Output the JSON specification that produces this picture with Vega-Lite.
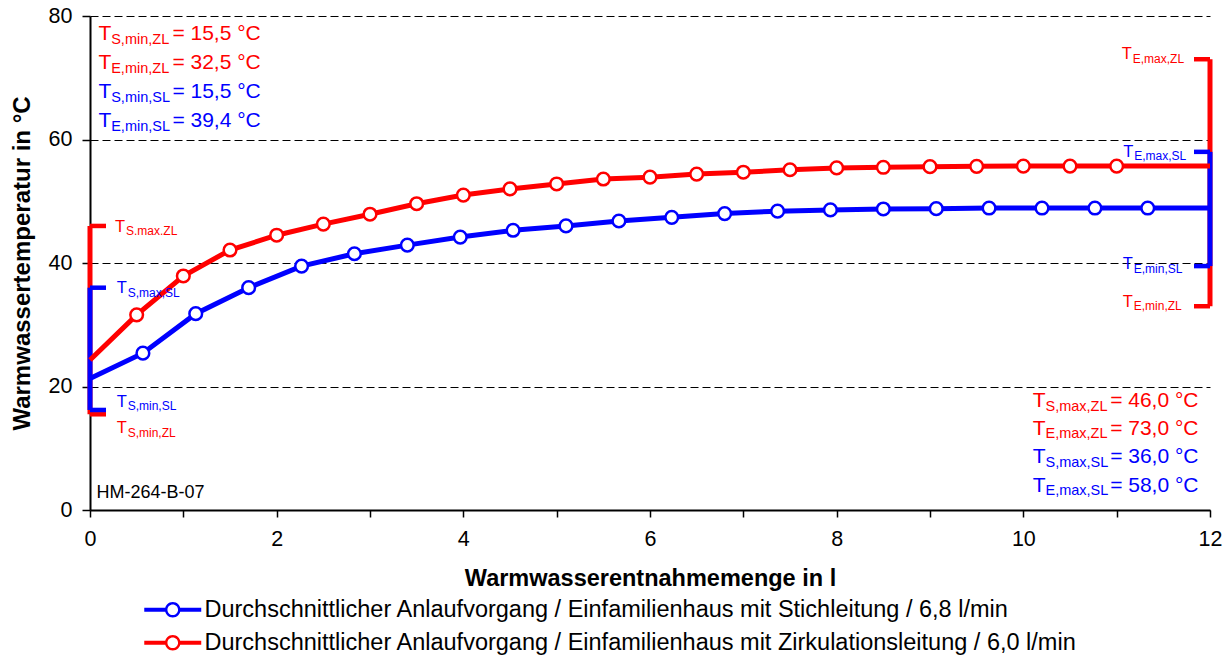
{
  "$schema": "https://vega.github.io/schema/vega-lite/v6.json",
  "width": 1120,
  "height": 494,
  "autosize": "none",
  "padding": {"left": 90, "top": 16, "right": 22, "bottom": 147},
  "background": "white",
  "config": {
    "view": {"stroke": null},
    "font": "Liberation Sans",
    "axis": {"labelFont": "Liberation Sans", "titleFont": "Liberation Sans", "labelColor": "black", "titleColor": "black"}
  },
  "datasets": {
    "kurven": [
      {"serie": "SL", "menge": 0, "temp": 21.3},
      {"serie": "SL", "menge": 0.567, "temp": 25.4},
      {"serie": "SL", "menge": 1.133, "temp": 31.8},
      {"serie": "SL", "menge": 1.7, "temp": 36.0},
      {"serie": "SL", "menge": 2.267, "temp": 39.5},
      {"serie": "SL", "menge": 2.833, "temp": 41.5},
      {"serie": "SL", "menge": 3.4, "temp": 42.9},
      {"serie": "SL", "menge": 3.967, "temp": 44.2},
      {"serie": "SL", "menge": 4.533, "temp": 45.3},
      {"serie": "SL", "menge": 5.1, "temp": 46.0},
      {"serie": "SL", "menge": 5.667, "temp": 46.8},
      {"serie": "SL", "menge": 6.233, "temp": 47.4},
      {"serie": "SL", "menge": 6.8, "temp": 48.0},
      {"serie": "SL", "menge": 7.367, "temp": 48.4},
      {"serie": "SL", "menge": 7.933, "temp": 48.6},
      {"serie": "SL", "menge": 8.5, "temp": 48.75},
      {"serie": "SL", "menge": 9.067, "temp": 48.8},
      {"serie": "SL", "menge": 9.633, "temp": 48.9},
      {"serie": "SL", "menge": 10.2, "temp": 48.9},
      {"serie": "SL", "menge": 10.767, "temp": 48.9},
      {"serie": "SL", "menge": 11.333, "temp": 48.9},
      {"serie": "SL", "menge": 12, "temp": 48.9},
      {"serie": "ZL", "menge": 0, "temp": 24.3},
      {"serie": "ZL", "menge": 0.5, "temp": 31.6},
      {"serie": "ZL", "menge": 1.0, "temp": 37.9},
      {"serie": "ZL", "menge": 1.5, "temp": 42.1},
      {"serie": "ZL", "menge": 2.0, "temp": 44.5},
      {"serie": "ZL", "menge": 2.5, "temp": 46.3},
      {"serie": "ZL", "menge": 3.0, "temp": 47.9},
      {"serie": "ZL", "menge": 3.5, "temp": 49.6},
      {"serie": "ZL", "menge": 4.0, "temp": 51.0},
      {"serie": "ZL", "menge": 4.5, "temp": 52.0},
      {"serie": "ZL", "menge": 5.0, "temp": 52.8},
      {"serie": "ZL", "menge": 5.5, "temp": 53.6},
      {"serie": "ZL", "menge": 6.0, "temp": 53.9},
      {"serie": "ZL", "menge": 6.5, "temp": 54.4},
      {"serie": "ZL", "menge": 7.0, "temp": 54.7},
      {"serie": "ZL", "menge": 7.5, "temp": 55.1},
      {"serie": "ZL", "menge": 8.0, "temp": 55.4},
      {"serie": "ZL", "menge": 8.5, "temp": 55.5},
      {"serie": "ZL", "menge": 9.0, "temp": 55.6},
      {"serie": "ZL", "menge": 9.5, "temp": 55.65},
      {"serie": "ZL", "menge": 10.0, "temp": 55.7},
      {"serie": "ZL", "menge": 10.5, "temp": 55.7},
      {"serie": "ZL", "menge": 11.0, "temp": 55.7},
      {"serie": "ZL", "menge": 12, "temp": 55.7}
    ],
    "klammern": [
      {"serie": "ZL", "menge": 0, "lo": 15.5, "hi": 46.0},
      {"serie": "ZL", "menge": 12, "lo": 33.0, "hi": 73.0},
      {"serie": "SL", "menge": 0, "lo": 16.2, "hi": 36.0},
      {"serie": "SL", "menge": 12, "lo": 39.5, "hi": 58.0}
    ],
    "werte": [
      {"serie": "ZL", "block": "links", "menge": 0.09, "temp": 76.1, "sub": "S,min,ZL", "wert": "= 15,5 °C"},
      {"serie": "ZL", "block": "links", "menge": 0.09, "temp": 71.4, "sub": "E,min,ZL", "wert": "= 32,5 °C"},
      {"serie": "SL", "block": "links", "menge": 0.09, "temp": 66.7, "sub": "S,min,SL", "wert": "= 15,5 °C"},
      {"serie": "SL", "block": "links", "menge": 0.09, "temp": 62.0, "sub": "E,min,SL", "wert": "= 39,4 °C"},
      {"serie": "ZL", "block": "rechts", "menge": 10.1, "temp": 16.6, "sub": "S,max,ZL", "wert": "= 46,0 °C"},
      {"serie": "ZL", "block": "rechts", "menge": 10.1, "temp": 12.15, "sub": "E,max,ZL", "wert": "= 73,0 °C"},
      {"serie": "SL", "block": "rechts", "menge": 10.1, "temp": 7.55, "sub": "S,max,SL", "wert": "= 36,0 °C"},
      {"serie": "SL", "block": "rechts", "menge": 10.1, "temp": 2.95, "sub": "E,max,SL", "wert": "= 58,0 °C"}
    ],
    "marken": [
      {"serie": "ZL", "menge": 0.268, "temp": 45.07, "sub": "S.max.ZL"},
      {"serie": "SL", "menge": 0.286, "temp": 35.1, "sub": "S,max,SL"},
      {"serie": "SL", "menge": 0.286, "temp": 16.73, "sub": "S,min,SL"},
      {"serie": "ZL", "menge": 0.286, "temp": 12.42, "sub": "S,min,ZL"},
      {"serie": "ZL", "menge": 11.054, "temp": 73.0, "sub": "E,max,ZL"},
      {"serie": "SL", "menge": 11.07, "temp": 57.2, "sub": "E,max,SL"},
      {"serie": "SL", "menge": 11.065, "temp": 38.98, "sub": "E,min,SL"},
      {"serie": "ZL", "menge": 11.065, "temp": 32.92, "sub": "E,min,ZL"}
    ],
    "kennung": [{"menge": 0.07, "temp": 1.9, "text": "HM-264-B-07"}]
  },
  "layer": [
    {
      "mark": {"type": "rule", "color": "#808080", "strokeWidth": 2},
      "encoding": {
        "x": {"datum": 12, "type": "quantitative"},
        "y": {"datum": 0, "type": "quantitative"},
        "y2": {"datum": 80}
      }
    },
    {
      "data": {"name": "klammern"},
      "mark": {"type": "rule", "strokeWidth": 5},
      "encoding": {
        "x": {"field": "menge", "type": "quantitative", "scale": {"domain": [0, 12], "nice": false},
          "axis": {
            "values": [0, 1, 2, 3, 4, 5, 6, 7, 8, 9, 10, 11, 12],
            "labelExpr": "datum.value % 2 == 0 ? format(datum.value, 'd') : ''",
            "labelOverlap": false,
            "title": "Warmwasserentnahmemenge in l",
            "titleFontSize": 23.5,
            "titleFontWeight": "bold",
            "titlePadding": 17,
            "labelFontSize": 21.5,
            "labelPadding": 11,
            "labelFlush": false,
            "tickSize": 7,
            "tickWidth": 1.5,
            "tickColor": "black",
            "domainColor": "black",
            "domainWidth": 2,
            "grid": false
          }
        },
        "y": {"field": "lo", "type": "quantitative", "scale": {"domain": [0, 80], "nice": false},
          "axis": {
            "values": [0, 20, 40, 60, 80],
            "title": "Warmwassertemperatur in °C",
            "titleFontSize": 24,
            "titleFontWeight": "bold",
            "titlePadding": 14,
            "labelFontSize": 21.5,
            "labelPadding": 10,
            "tickSize": 8,
            "tickWidth": 1.5,
            "tickColor": "black",
            "domainColor": "black",
            "domainWidth": 2,
            "grid": true,
            "gridColor": "black",
            "gridDash": [8, 4],
            "gridWidth": 1
          }
        },
        "y2": {"field": "hi"},
        "color": {"field": "serie", "type": "nominal", "scale": {"domain": ["SL", "ZL"], "range": ["#0000FF", "#FF0000"]}}
      }
    },
    {
      "data": {"name": "klammern"},
      "transform": [{"fold": ["lo", "hi"], "as": ["art", "wert"]}, {"filter": "datum.menge == 0"}],
      "mark": {"type": "tick", "orient": "horizontal", "size": 16, "thickness": 4.5, "xOffset": 8, "opacity": 1},
      "encoding": {
        "x": {"field": "menge", "type": "quantitative"},
        "y": {"field": "wert", "type": "quantitative"},
        "color": {"field": "serie", "type": "nominal"}
      }
    },
    {
      "data": {"name": "klammern"},
      "transform": [{"fold": ["lo", "hi"], "as": ["art", "wert"]}, {"filter": "datum.menge == 12"}],
      "mark": {"type": "tick", "orient": "horizontal", "size": 16, "thickness": 4.5, "xOffset": -8, "opacity": 1},
      "encoding": {
        "x": {"field": "menge", "type": "quantitative"},
        "y": {"field": "wert", "type": "quantitative"},
        "color": {"field": "serie", "type": "nominal"}
      }
    },
    {
      "data": {"name": "kurven"},
      "mark": {"type": "line", "strokeWidth": 5},
      "encoding": {
        "x": {"field": "menge", "type": "quantitative"},
        "y": {"field": "temp", "type": "quantitative"},
        "color": {"field": "serie", "type": "nominal",
          "legend": {
            "orient": "none",
            "legendX": 71,
            "legendY": 582,
            "direction": "vertical",
            "title": null,
            "padding": 0,
            "symbolType": "M-4.07,-0.29L-1,-0.29L-1,0.29L-4.07,0.29ZM1,-0.29L4.07,-0.29L4.07,0.29L1,0.29ZM-1.11,0A1.11,1.11,0,1,1,1.11,0A1.11,1.11,0,1,1,-1.11,0ZM-0.76,0A0.76,0.76,0,1,0,0.76,0A0.76,0.76,0,1,0,-0.76,0Z",
            "symbolSize": 196,
            "symbolStrokeWidth": 0,
            "labelFontSize": 23.5,
            "labelFont": "Liberation Sans",
            "labelColor": "black",
            "labelOffset": 20,
            "labelLimit": 1100,
            "rowPadding": 8,
            "labelExpr": "datum.value == 'SL' ? 'Durchschnittlicher Anlaufvorgang / Einfamilienhaus mit Stichleitung / 6,8 l/min' : 'Durchschnittlicher Anlaufvorgang / Einfamilienhaus mit Zirkulationsleitung / 6,0 l/min'",
            "encode": {"symbols": {"update": {"fill": {"signal": "scale('color', datum.value)"}, "strokeWidth": {"value": 0}, "opacity": {"value": 1}}}}
          }
        }
      }
    },
    {
      "data": {"name": "kurven"},
      "transform": [{"filter": "datum.menge > 0 && datum.menge < 12"}],
      "mark": {"type": "point", "filled": false, "fill": "white", "fillOpacity": 1, "opacity": 1, "size": 160, "strokeWidth": 2.5},
      "encoding": {
        "x": {"field": "menge", "type": "quantitative"},
        "y": {"field": "temp", "type": "quantitative"},
        "color": {"field": "serie", "type": "nominal"}
      }
    },
    {
      "data": {"name": "werte"},
      "mark": {"type": "text", "align": "left", "baseline": "alphabetic", "fontSize": 21, "font": "Liberation Sans"},
      "encoding": {
        "x": {"field": "menge", "type": "quantitative"},
        "y": {"field": "temp", "type": "quantitative"},
        "text": {"value": "T"},
        "color": {"field": "serie", "type": "nominal"}
      }
    },
    {
      "data": {"name": "werte"},
      "mark": {"type": "text", "align": "left", "baseline": "alphabetic", "fontSize": 14.5, "dx": 12.8, "dy": 3.5, "font": "Liberation Sans"},
      "encoding": {
        "x": {"field": "menge", "type": "quantitative"},
        "y": {"field": "temp", "type": "quantitative"},
        "text": {"field": "sub"},
        "color": {"field": "serie", "type": "nominal"}
      }
    },
    {
      "data": {"name": "werte"},
      "transform": [{"filter": "datum.block == 'links'"}],
      "mark": {"type": "text", "align": "left", "baseline": "alphabetic", "fontSize": 21, "dx": 74, "font": "Liberation Sans"},
      "encoding": {
        "x": {"field": "menge", "type": "quantitative"},
        "y": {"field": "temp", "type": "quantitative"},
        "text": {"field": "wert"},
        "color": {"field": "serie", "type": "nominal"}
      }
    },
    {
      "data": {"name": "werte"},
      "transform": [{"filter": "datum.block == 'rechts'"}],
      "mark": {"type": "text", "align": "left", "baseline": "alphabetic", "fontSize": 21, "dx": 77.5, "font": "Liberation Sans"},
      "encoding": {
        "x": {"field": "menge", "type": "quantitative"},
        "y": {"field": "temp", "type": "quantitative"},
        "text": {"field": "wert"},
        "color": {"field": "serie", "type": "nominal"}
      }
    },
    {
      "data": {"name": "marken"},
      "mark": {"type": "text", "align": "left", "baseline": "alphabetic", "fontSize": 16.5, "font": "Liberation Sans"},
      "encoding": {
        "x": {"field": "menge", "type": "quantitative"},
        "y": {"field": "temp", "type": "quantitative"},
        "text": {"value": "T"},
        "color": {"field": "serie", "type": "nominal"}
      }
    },
    {
      "data": {"name": "marken"},
      "mark": {"type": "text", "align": "left", "baseline": "alphabetic", "fontSize": 12, "dx": 11, "dy": 3.4, "font": "Liberation Sans"},
      "encoding": {
        "x": {"field": "menge", "type": "quantitative"},
        "y": {"field": "temp", "type": "quantitative"},
        "text": {"field": "sub"},
        "color": {"field": "serie", "type": "nominal"}
      }
    },
    {
      "data": {"name": "kennung"},
      "mark": {"type": "text", "align": "left", "baseline": "alphabetic", "fontSize": 18, "color": "black", "font": "Liberation Sans"},
      "encoding": {
        "x": {"field": "menge", "type": "quantitative"},
        "y": {"field": "temp", "type": "quantitative"},
        "text": {"field": "text"}
      }
    }
  ]
}
